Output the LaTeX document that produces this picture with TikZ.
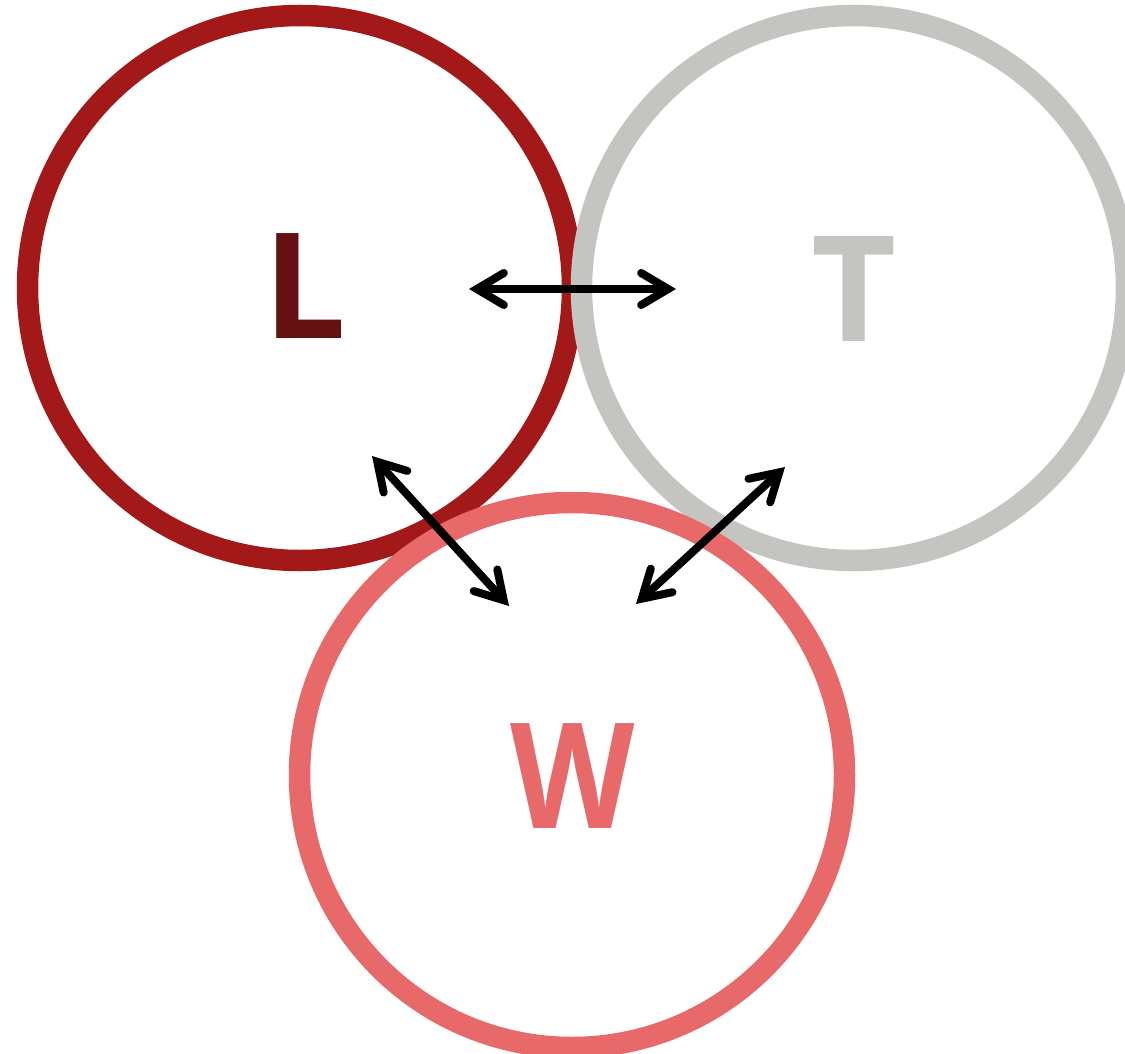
\documentclass[tikz,border=0pt]{standalone}
\usepackage{fontspec}
\setmainfont{Open Sans}
\usetikzlibrary{arrows.meta}
\definecolor{lred}{HTML}{A31819}
\definecolor{ldark}{HTML}{651113}
\definecolor{tgray}{HTML}{C4C5C1}
\definecolor{wpink}{HTML}{E8696A}
\tikzset{
  ring/.style={circle, draw, line width=21.5pt, minimum size=545pt, inner sep=0pt},
  letter/.style={font=\bfseries\fontsize{147}{147}\selectfont, inner sep=0pt, text depth=0pt},
  barb/.tip={Straight Barb[length=27pt, width=32pt, line cap=round, line join=miter]},
  link/.style={line width=8pt, barb-barb}
}
\begin{document}
\begin{tikzpicture}[x=1pt, y=-1pt]
  \useasboundingbox (0,0) rectangle (1125,1054);
  \node[ring, draw=lred] (Lc) at (300,288) {};
  \node[ring, draw=tgray] (Tc) at (854,288) {};
  \node[ring, draw=wpink] (Wc) at (572,775) {};
  \node[letter, text=ldark] (Lt) at (305.5,286.5) {L};
  \node[letter, text=tgray] (Tt) at (854.5,289.5) {T};
  \node[letter, text=wpink, xscale=0.875] (Wt) at (572.5,776.5) {W};
  \coordinate (a1) at (469,289);
  \coordinate (a2) at (676,289);
  \coordinate (b1) at (372,456);
  \coordinate (b2) at (509,606);
  \coordinate (c1) at (636,604);
  \coordinate (c2) at (785,467);
  \draw[link] (a1) -- (a2);
  \draw[link] (b1) -- (b2);
  \draw[link] (c1) -- (c2);
\end{tikzpicture}
\end{document}
